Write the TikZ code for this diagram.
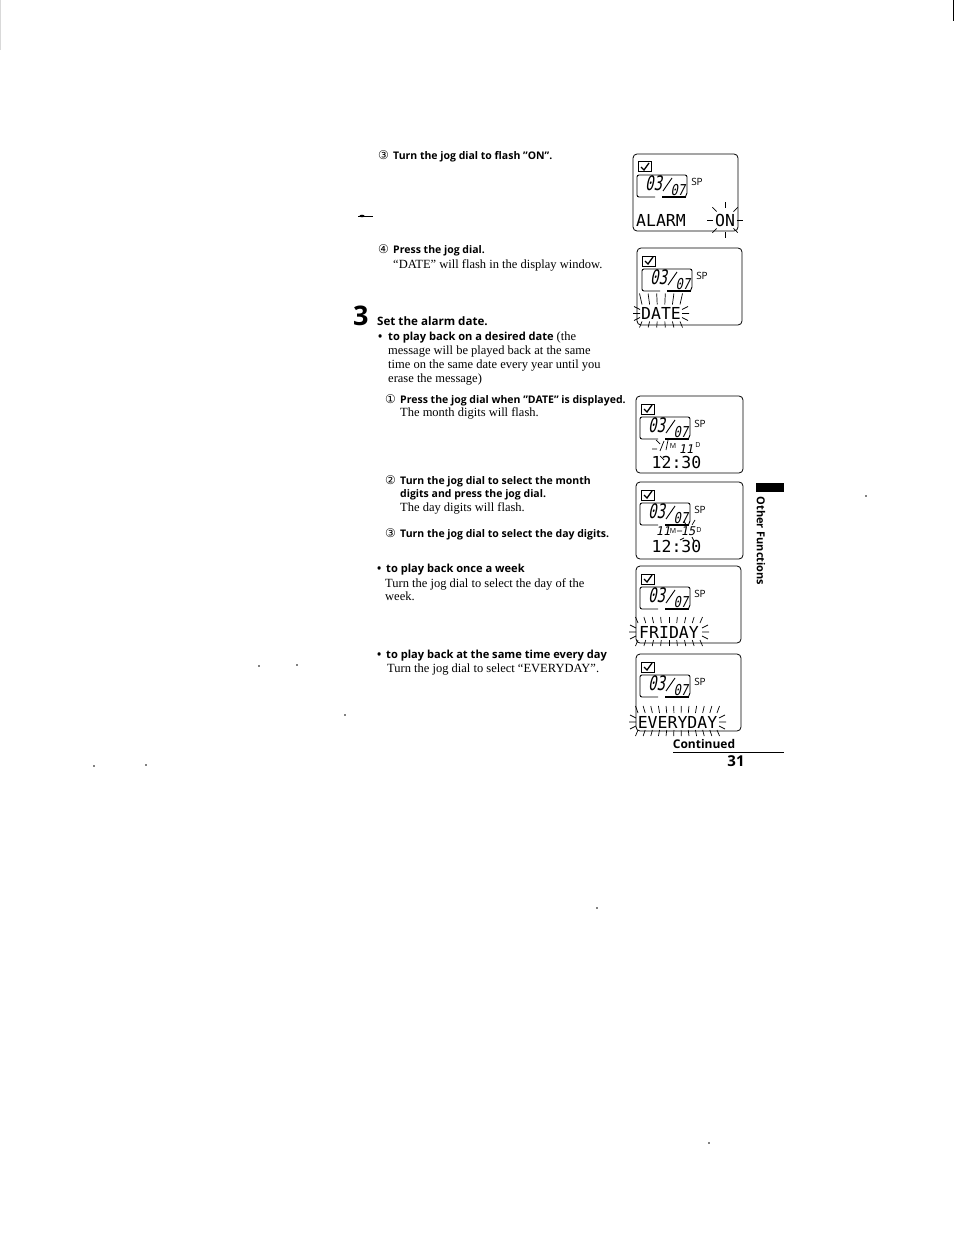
\documentclass[tikz,border=0pt]{standalone}
\usepackage{fontspec}
\usetikzlibrary{calc}
\setmainfont{Liberation Serif}
\setsansfont{Open Sans}
\newfontfamily\lcdfont{DejaVu Sans Mono}
\newfontfamily\circfont{DejaVu Sans}
\newcommand{\circnum}[1]{{\circfont\fontsize{12}{12}\selectfont #1}}
\newcommand{\flashrays}[5]{% left, right, middle y, number of rays, length on top
\foreach \i in {0,...,#4} {
\pgfmathsetmacro\rx{#1+(#2-#1)*\i/#4}
\pgfmathsetmacro\rd{(\i/#4-0.5)*5}
\draw[ray] (\rx,#3-9) -- ++(\rd,-#5);
\draw[ray] (\rx,#3+8) -- ++(\rd,6);
}
\draw[ray] (#1-2,#3) -- ++(-7,0) (#1-2,#3-4) -- ++(-6,-3) (#1-2,#3+4) -- ++(-6,3);
\draw[ray] (#2+2,#3) -- ++(7,0) (#2+2,#3-4) -- ++(6,-3) (#2+2,#3+4) -- ++(6,3);
}
\tikzset{
txt/.style={anchor=base west,inner sep=0pt,font=\fontsize{12.5}{12.5}\selectfont},
head/.style={anchor=base west,inner sep=0pt,font=\sffamily\bfseries\fontsize{10.5}{10.5}\selectfont},
bighead/.style={anchor=base west,inner sep=0pt,font=\sffamily\bfseries\fontsize{11.1}{11.1}\selectfont},
lcd/.style={inner sep=0pt,font=\lcdfont\fontsize{16.5}{16.5}\selectfont},
lcdsmall/.style={inner sep=0pt,xslant=0.2,font=\lcdfont\fontsize{12}{12}\selectfont},
small/.style={inner sep=0pt,font=\sffamily\fontsize{10}{10}\selectfont},
tiny/.style={inner sep=0pt,font=\sffamily\fontsize{7}{7}\selectfont},
ray/.style={line width=0.7pt},
panel/.style={line width=0.8pt,rounded corners=4pt}
}
\begin{document}
\begin{tikzpicture}[x=1pt,y=-1pt]
\useasboundingbox[fill=white] (0,0) rectangle (954,1233);
% page edge and specks
\fill (952.5,0) rectangle (954,21);
\fill (756,483) rectangle (784,492);
\draw[line width=0.4pt,gray!30] (0,0) -- (0,50);
\draw[line width=0.5pt] (358,216) -- (373,216);
\fill (362,216) ellipse (2.5 and 1.3);
\foreach \x/\y in {259/666,297/665,345/715,94/766,146/765,709/1143,866/496,597/908}
\fill (\x,\y) circle (0.8);
% left column
\node[anchor=base west,inner sep=0pt] (numc) at (378,160) {\circnum{③}};
\node[head] (stepc) at (393,160) {Turn the jog dial to flash "ON".};
\node[anchor=base west,inner sep=0pt] (numd) at (378,254) {\circnum{④}};
\node[head] (stepd) at (393,254) {Press the jog dial.};
\node[txt] (flashdate) at (393,268) {“DATE” will flash in the display window.};
\node[anchor=base west,inner sep=0pt,font=\sffamily\bfseries\fontsize{27}{27}\selectfont] (three) at (353,325) {3};
\node[anchor=base west,inner sep=0pt,font=\sffamily\bfseries\fontsize{11.6}{11.6}\selectfont] (setdate) at (377,325) {Set the alarm date.};
\node[bighead] (bulleta) at (378,340) {•};
\node[anchor=base west,inner sep=0pt] (playdate) at (388,340) {\sffamily\bfseries\fontsize{11.1}{11.1}\selectfont to play back on a desired date \rmfamily\mdseries\fontsize{12.5}{12.5}\selectfont(the};
\node[txt] (linea) at (388,354) {message will be played back at the same};
\node[txt] (lineb) at (388,368) {time on the same date every year until you};
\node[txt] (linec) at (388,382) {erase the message)};
\node[anchor=base west,inner sep=0pt] (numa) at (385,403) {\circnum{①}};
\node[head] (stepa) at (400,403) {Press the jog dial when "DATE" is displayed.};
\node[txt] (montha) at (400,416) {The month digits will flash.};
\node[anchor=base west,inner sep=0pt] (numb) at (385,484) {\circnum{②}};
\node[head] (stepb) at (400,484) {Turn the jog dial to select the month};
\node[head] (stepbb) at (400,497) {digits and press the jog dial.};
\node[txt] (daya) at (400,511) {The day digits will flash.};
\node[anchor=base west,inner sep=0pt] (nume) at (385,537) {\circnum{③}};
\node[head] (stepe) at (400,537) {Turn the jog dial to select the day digits.};
\node[bighead] (bulletb) at (377,572) {•};
\node[bighead] (playweek) at (386,572) {to play back once a week};
\node[txt] (weeka) at (385,587) {Turn the jog dial to select the day of the};
\node[txt] (weekb) at (385,600) {week.};
\node[bighead] (bulletc) at (377,658) {•};
\node[bighead] (playday) at (386,658) {to play back at the same time every day};
\node[txt] (everya) at (387,672) {Turn the jog dial to select “EVERYDAY”.};
% display panels
\foreach \nm/\px/\py/\pw/\fx in {on/633/154/105/4,date/637/248/105/5,month/636/396/107/4,day/636/482/107/4,week/636/566/105/4,every/636/654/105/4} {
\begin{scope}[shift={(\px,\py)}]
\draw[panel] (0,0) rectangle (\pw,77);
\draw[line width=1pt] (5,8) rectangle (18,18);
\draw[line width=1.3pt] (8,13) -- (11,16) -- (16,9);
\draw[line width=0.9pt,rounded corners=2pt] (\fx+18,43) -- (\fx,43) -- (\fx,21) -- (\fx+50,21) -- (\fx+50,41) -- (\fx+48,43);
\draw[line width=1.1pt] (\fx+25,43) -- (\fx+49,43);
\draw[line width=0.9pt] (\fx+26,37) -- (\fx+35,24);
\node[lcd,font=\lcdfont\fontsize{20}{20}\selectfont,xslant=0.2,xscale=0.7] (\nm-mon) at (\fx+18,29) {03};
\node[lcd,font=\lcdfont\fontsize{15}{15}\selectfont,xslant=0.2,xscale=0.8] (\nm-dom) at (\fx+42,36) {07};
\node[small] (\nm-sp) at (\fx+60,28) {SP};
\end{scope}
}
% words in the panels
\node[lcd] (alarm) at (661,220) {ALARM};
\node[lcd] (onword) at (725,220) {ON};
\foreach \a in {0,45,...,315}
\draw[ray] ($(725,220)+(\a:12)$) -- ($(725,220)+(\a:18)$);
\node[lcd] (dateword) at (661,313.5) {DATE};
\flashrays{642}{680}{313.5}{5}{11}
\node[lcd] (friday) at (669,632) {FRIDAY};
\flashrays{638}{700}{632}{8}{6}
\node[lcd] (everyday) at (677.5,722) {EVERYDAY};
\flashrays{638}{717}{722}{11}{7}
% clock lines
\node[lcd] (clocka) at (676.5,462) {12:30};
\node[lcd] (clockb) at (676.5,546) {12:30};
\node[tiny] (ma) at (673,446) {M};
\node[lcdsmall] (da) at (687,449) {11};
\node[tiny] (dda) at (698,445) {D};
\draw[ray] (652,449) -- (657,449) (656,440) -- (660,444) (664,441) -- (660,451) (668,440) -- (666,450) (660,456) -- (664,460);
\node[lcdsmall] (db) at (664,531) {11};
\node[tiny] (mb) at (673,531) {M};
\node[lcdsmall] (dc) at (689,531) {15};
\node[tiny] (ddb) at (699,530) {D};
\draw[ray] (677,531) -- (682,531) (684,521) -- (686,525) (695,520) -- (692,525) (680,540) -- (684,538) (694,541) -- (692,537);
% margin and page foot
\node[rotate=270,inner sep=0pt,font=\sffamily\bfseries\fontsize{11}{11}\selectfont] (margin) at (761,541) {Other Functions};
\node[inner sep=0pt,font=\sffamily\bfseries\fontsize{12}{12}\selectfont] (cont) at (704,744) {Continued};
\coordinate (rulea) at (673,752.5);
\coordinate (ruleb) at (784,752.5);
\draw[line width=1pt] (rulea) -- (ruleb);
\node[inner sep=0pt,font=\sffamily\bfseries\fontsize{15}{15}\selectfont] (pageno) at (736,761) {31};
\end{tikzpicture}
\end{document}
